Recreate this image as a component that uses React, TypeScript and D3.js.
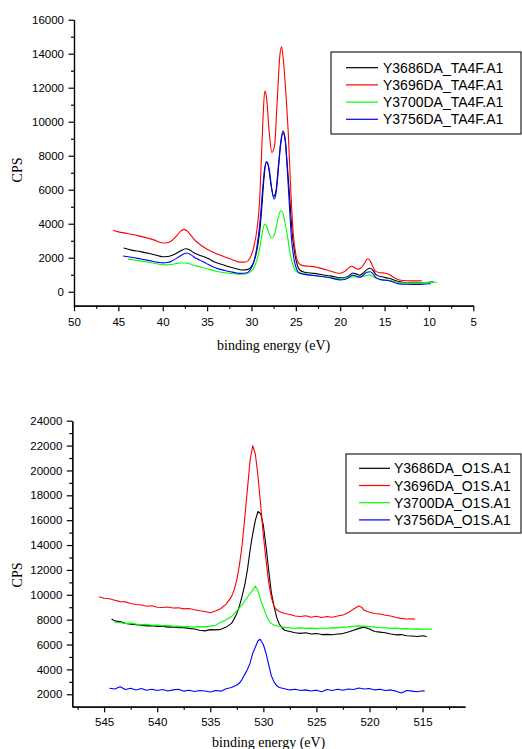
import React from 'react';
import * as d3 from 'd3';

type Pt = [number, number];

// ---- panel 1: TA4F region (binding energy eV, CPS) ----
const taNames = ['Y3686DA_TA4F.A1', 'Y3696DA_TA4F.A1', 'Y3700DA_TA4F.A1', 'Y3756DA_TA4F.A1'];

const ta3686: Pt[] = [
  [44.4, 2570], [43.5, 2450], [42.5, 2360], [41.5, 2250], [40.5, 2120], [40.0, 2060], [39.5, 2070],
  [39.0, 2130], [38.5, 2250], [38.0, 2400], [37.4, 2530], [37.0, 2470], [36.5, 2300], [36.0, 2180],
  [35.0, 1980], [34.0, 1720], [33.0, 1550], [32.0, 1400], [31.0, 1280], [30.5, 1300], [30.1, 1420],
  [29.7, 1800], [29.3, 2700], [29.0, 3900], [28.8, 5200], [28.6, 6600], [28.35, 7650], [28.1, 7400],
  [27.8, 6300], [27.5, 5600], [27.25, 5900], [27.0, 7200], [26.7, 8800], [26.45, 9450], [26.2, 9000],
  [26.0, 7700], [25.7, 5600], [25.4, 3400], [25.1, 2200], [24.8, 1500], [24.5, 1250], [24.0, 1150],
  [23.0, 1080], [22.0, 1000], [21.0, 920], [20.0, 820], [19.5, 840], [19.0, 950], [18.6, 1100],
  [18.2, 1050], [17.8, 980], [17.4, 1100], [17.0, 1300], [16.6, 1380], [16.3, 1250], [15.9, 980],
  [15.3, 880], [14.5, 790], [13.5, 620], [12.5, 530], [11.0, 520], [10.0, 560], [9.5, 580],
];
const ta3696: Pt[] = [
  [45.6, 3620], [45.0, 3520], [44.0, 3430], [43.0, 3320], [42.0, 3200], [41.0, 3050], [40.0, 2870],
  [39.5, 2880], [39.0, 3000], [38.5, 3250], [38.0, 3550], [37.6, 3670], [37.2, 3550], [36.8, 3300],
  [36.3, 3000], [35.8, 2780], [35.0, 2500], [34.0, 2250], [33.0, 2050], [32.0, 1850], [31.3, 1740],
  [30.6, 1750], [30.2, 1950], [29.8, 2500], [29.4, 3600], [29.1, 5200], [28.9, 7600], [28.7, 10200],
  [28.5, 11800], [28.3, 11400], [28.0, 9400], [27.7, 8200], [27.4, 8600], [27.1, 11200], [26.8, 13900],
  [26.6, 14400], [26.4, 13600], [26.1, 11500], [25.85, 9300], [25.6, 6300], [25.3, 3500], [25.0, 2200],
  [24.7, 1700], [24.3, 1550], [23.5, 1500], [23.0, 1480], [22.5, 1420], [21.5, 1280], [20.5, 1120],
  [20.0, 1090], [19.5, 1200], [19.0, 1420], [18.7, 1500], [18.4, 1420], [18.0, 1330], [17.7, 1380],
  [17.3, 1650], [16.9, 1940], [16.6, 1800], [16.3, 1450], [16.0, 1200], [15.5, 1120], [15.0, 1100],
  [14.6, 1050], [14.0, 850], [13.3, 690], [12.5, 650], [11.5, 640], [10.8, 650],
];
const ta3700: Pt[] = [
  [43.9, 1920], [43.0, 1850], [42.0, 1770], [41.0, 1680], [40.0, 1590], [39.5, 1580], [39.0, 1610],
  [38.5, 1660], [38.0, 1690], [37.4, 1690], [37.0, 1650], [36.5, 1560], [35.8, 1470], [35.0, 1350],
  [34.0, 1210], [33.0, 1120], [32.0, 1060], [31.3, 1030], [30.6, 1040], [30.2, 1150], [29.8, 1350],
  [29.4, 1850], [29.1, 2500], [28.9, 3100], [28.7, 3700], [28.5, 3980], [28.3, 3850], [28.0, 3400],
  [27.7, 3150], [27.45, 3300], [27.2, 3800], [26.95, 4450], [26.7, 4760], [26.45, 4600], [26.2, 4000],
  [25.95, 3300], [25.7, 2400], [25.4, 1700], [25.1, 1300], [24.8, 1150], [24.3, 1080], [23.5, 1000],
  [22.5, 920], [21.5, 860], [20.5, 800], [20.0, 780], [19.5, 800], [19.0, 840], [18.5, 880],
  [18.0, 860], [17.5, 880], [17.0, 960], [16.7, 990], [16.3, 900], [15.8, 760], [15.0, 700],
  [14.5, 680], [13.5, 560], [12.5, 520], [11.0, 520], [10.0, 550], [9.1, 560],
];
const ta3756: Pt[] = [
  [44.5, 2100], [43.5, 2030], [42.5, 1930], [41.5, 1830], [40.5, 1730], [40.0, 1700], [39.5, 1720],
  [39.0, 1800], [38.5, 1950], [38.0, 2120], [37.3, 2280], [36.8, 2170], [36.3, 1980], [35.8, 1860],
  [35.0, 1640], [34.0, 1400], [33.0, 1250], [32.0, 1140], [31.3, 1080], [30.6, 1100], [30.2, 1250],
  [29.8, 1650], [29.4, 2600], [29.1, 3800], [28.9, 5000], [28.7, 6300], [28.5, 7300], [28.25, 7650],
  [28.0, 7200], [27.7, 6000], [27.45, 5450], [27.2, 5900], [26.95, 7300], [26.7, 8700], [26.45, 9350],
  [26.2, 8900], [26.0, 7500], [25.75, 5300], [25.5, 3200], [25.2, 1900], [24.9, 1300], [24.6, 1100],
  [24.0, 1020], [23.0, 960], [22.0, 900], [21.0, 800], [20.0, 700], [19.5, 720], [19.0, 850],
  [18.6, 980], [18.2, 930], [17.8, 860], [17.4, 970], [17.0, 1150], [16.6, 1180], [16.3, 1050],
  [15.9, 800], [15.3, 700], [14.5, 650], [13.5, 480], [12.5, 440], [11.0, 430], [10.0, 470], [9.8, 480],
];
const taXTicks = [50, 45, 40, 35, 30, 25, 20, 15, 10, 5];
const taYTicks = [0, 2000, 4000, 6000, 8000, 10000, 12000, 14000, 16000];

// ---- panel 2: O1S region ----
const o1sNames = ['Y3686DA_O1S.A1', 'Y3696DA_O1S.A1', 'Y3700DA_O1S.A1', 'Y3756DA_O1S.A1'];

const o1s3686: Pt[] = [
  [544.3, 8060], [544.0, 7900], [543.5, 7850], [543.0, 7700], [542.5, 7640], [542.0, 7600], [541.5, 7560],
  [541.0, 7500], [540.5, 7520], [540.0, 7450], [539.5, 7480], [539.0, 7400], [538.5, 7420], [538.0, 7350],
  [537.5, 7360], [537.0, 7300], [536.5, 7250], [536.0, 7150], [535.5, 7100], [535.0, 7200], [534.5, 7180],
  [534.0, 7220], [533.5, 7400], [533.0, 7700], [532.75, 8050], [532.5, 8500], [532.25, 9100], [532.0, 9900],
  [531.75, 10800], [531.5, 12000], [531.25, 13600], [531.0, 14900], [530.75, 16000], [530.5, 16700],
  [530.25, 16500], [530.0, 15600], [529.75, 13900], [529.5, 12000], [529.25, 10200], [529.0, 9100],
  [528.75, 8200], [528.5, 7650], [528.25, 7350], [528.0, 7150], [527.5, 7050], [527.0, 6950], [526.5, 6900],
  [526.0, 6950], [525.5, 6850], [525.0, 6880], [524.5, 6800], [524.0, 6820], [523.5, 6780], [523.0, 6850],
  [522.5, 6880], [522.0, 7000], [521.5, 7150], [521.0, 7300], [520.5, 7400], [520.0, 7250], [519.5, 7050],
  [519.0, 7000], [518.5, 6950], [518.0, 6850], [517.5, 6780], [517.0, 6800], [516.5, 6700], [516.0, 6680],
  [515.5, 6650], [515.0, 6700], [514.6, 6650],
];
const o1s3696: Pt[] = [
  [545.5, 9850], [545.0, 9720], [544.5, 9680], [544.0, 9560], [543.5, 9450], [543.0, 9430], [542.5, 9300],
  [542.0, 9220], [541.5, 9180], [541.0, 9080], [540.5, 9120], [540.0, 9000], [539.5, 8980], [539.0, 9020],
  [538.5, 8940], [538.0, 8960], [537.5, 8870], [537.0, 8900], [536.5, 8800], [536.0, 8720], [535.5, 8650],
  [535.0, 8560], [534.5, 8700], [534.0, 8900], [533.5, 9250], [533.0, 9850], [532.75, 10400], [532.5, 11200],
  [532.25, 12400], [532.0, 14000], [531.75, 16200], [531.5, 18500], [531.25, 20800], [531.0, 22000],
  [530.75, 21300], [530.5, 19500], [530.25, 17200], [530.0, 14800], [529.75, 12800], [529.5, 11000],
  [529.25, 9800], [529.0, 9100], [528.75, 8800], [528.5, 8650], [528.0, 8500], [527.5, 8420], [527.0, 8300],
  [526.5, 8250], [526.0, 8320], [525.5, 8200], [525.0, 8280], [524.5, 8180], [524.0, 8260], [523.5, 8200],
  [523.0, 8300], [522.5, 8380], [522.0, 8550], [521.5, 8850], [521.0, 9100], [520.75, 9000], [520.5, 8750],
  [520.0, 8600], [519.5, 8500], [519.0, 8450], [518.5, 8350], [518.0, 8300], [517.5, 8180], [517.0, 8100],
  [516.5, 8050], [516.0, 8060], [515.7, 8030],
];
const o1s3700: Pt[] = [
  [544.0, 7800], [543.5, 7750], [543.0, 7700], [542.5, 7720], [542.0, 7640], [541.5, 7600], [541.0, 7620],
  [540.5, 7550], [540.0, 7580], [539.5, 7500], [539.0, 7540], [538.5, 7460], [538.0, 7480], [537.5, 7420],
  [537.0, 7450], [536.5, 7400], [536.0, 7440], [535.5, 7420], [535.0, 7480], [534.5, 7550], [534.0, 7800],
  [533.5, 8000], [533.0, 8250], [532.5, 8700], [532.0, 9200], [531.5, 9800], [531.0, 10400], [530.75, 10700],
  [530.5, 10300], [530.25, 9600], [530.0, 9000], [529.75, 8400], [529.5, 7950], [529.25, 7700], [529.0, 7560],
  [528.5, 7450], [528.0, 7380], [527.5, 7350], [527.0, 7300], [526.5, 7340], [526.0, 7300], [525.5, 7320],
  [525.0, 7280], [524.5, 7330], [524.0, 7300], [523.5, 7360], [523.0, 7340], [522.5, 7400], [522.0, 7420],
  [521.5, 7460], [521.0, 7500], [520.5, 7480], [520.0, 7450], [519.5, 7400], [519.0, 7350], [518.5, 7340],
  [518.0, 7300], [517.5, 7320], [517.0, 7260], [516.5, 7280], [516.0, 7240], [515.5, 7260], [515.0, 7220],
  [514.5, 7250], [514.1, 7230],
];
const o1s3756: Pt[] = [
  [544.5, 2480], [544.0, 2420], [543.5, 2600], [543.0, 2380], [542.5, 2480], [542.0, 2350], [541.5, 2460],
  [541.0, 2320], [540.5, 2400], [540.0, 2300], [539.5, 2380], [539.0, 2260], [538.5, 2350], [538.0, 2400],
  [537.5, 2250], [537.0, 2320], [536.5, 2220], [536.0, 2300], [535.5, 2260], [535.0, 2180], [534.5, 2300],
  [534.0, 2250], [533.5, 2450], [533.0, 2550], [532.5, 2750], [532.25, 2900], [532.0, 3200], [531.75, 3600],
  [531.5, 4000], [531.25, 4500], [531.0, 5300], [530.75, 5800], [530.5, 6300], [530.3, 6420], [530.0, 6000],
  [529.75, 5300], [529.5, 4400], [529.25, 3500], [529.0, 3000], [528.75, 2700], [528.5, 2550], [528.0, 2450],
  [527.5, 2350], [527.0, 2400], [526.5, 2300], [526.0, 2350], [525.5, 2260], [525.0, 2330], [524.5, 2200],
  [524.0, 2380], [523.5, 2300], [523.0, 2400], [522.5, 2320], [522.0, 2420], [521.5, 2380], [521.0, 2500],
  [520.5, 2420], [520.0, 2460], [519.5, 2350], [519.0, 2400], [518.5, 2300], [518.0, 2350], [517.5, 2250],
  [517.0, 2100], [516.5, 2300], [516.0, 2250], [515.5, 2200], [515.0, 2280], [514.8, 2250],
];
const o1sXTicks = [545, 540, 535, 530, 525, 520, 515];
const o1sYTicks = [2000, 4000, 6000, 8000, 10000, 12000, 14000, 16000, 18000, 20000, 22000, 24000];

const colors = ['#000000', '#ff0000', '#00ff00', '#0000ff'];

const sans = '"Liberation Sans", Arial, sans-serif';
const serif = '"Liberation Serif", "Times New Roman", serif';

function drawPanel(svg: any, p: any) {
  const g = svg.append('g');
  const x = d3.scaleLinear().domain(p.xDomain).range([p.left, p.right]);
  const y = d3.scaleLinear().domain(p.yDomain).range([p.bottom, p.top]);

  const style = (sel: any) => {
    sel.selectAll('path,line').attr('stroke', '#000').attr('stroke-width', 1.2);
    sel.selectAll('text').attr('font-family', sans).attr('font-size', 11.5).attr('fill', '#000');
  };

  // minor ticks
  g.append('g').attr('transform', `translate(0,${p.bottom})`)
    .call(d3.axisBottom(x).tickValues(p.xMinor).tickSize(3).tickSizeOuter(0).tickFormat(() => ''))
    .call(style);
  g.append('g').attr('transform', `translate(${p.left},0)`)
    .call(d3.axisLeft(y).tickValues(p.yMinor).tickSize(3).tickSizeOuter(0).tickFormat(() => ''))
    .call(style);

  // major ticks
  g.append('g').attr('transform', `translate(0,${p.bottom})`)
    .call(d3.axisBottom(x).tickValues(p.xTicks).tickSize(5.5).tickSizeOuter(0).tickPadding(p.xPad).tickFormat(d3.format('d')))
    .call(style);
  g.append('g').attr('transform', `translate(${p.left},0)`)
    .call(d3.axisLeft(y).tickValues(p.yTicks).tickSize(5.5).tickSizeOuter(0).tickPadding(4.5).tickFormat(d3.format('d')))
    .call(style);

  // axis titles
  g.append('text')
    .attr('x', (p.left + p.right) / 2).attr('y', p.xTitleY)
    .attr('text-anchor', 'middle').attr('font-family', serif).attr('font-size', 14)
    .text('binding energy (eV)');
  g.append('text')
    .attr('transform', `translate(21.5,${p.yTitleY}) rotate(-90)`)
    .attr('text-anchor', 'middle').attr('font-family', serif).attr('font-size', 14)
    .text('CPS');

  const line = d3.line<Pt>().x(d => x(d[0])).y(d => y(d[1])).curve(p.curve);
  p.series.forEach((s: Pt[], i: number) => {
    g.append('path').attr('d', line(s)).attr('fill', 'none')
      .attr('stroke', colors[i]).attr('stroke-width', 1.1).attr('stroke-linejoin', 'round');
  });

  // legend
  const lg = g.append('g');
  lg.append('rect')
    .attr('x', p.legend.x).attr('y', p.legend.y).attr('width', p.legend.w).attr('height', p.legend.h)
    .attr('fill', '#fff').attr('stroke', '#222').attr('stroke-width', 1.2);
  p.names.forEach((name: string, i: number) => {
    const ry = p.legend.y + p.legend.row0 + i * p.legend.step;
    lg.append('line')
      .attr('x1', p.legend.x + p.legend.lx0).attr('x2', p.legend.x + p.legend.lx1)
      .attr('y1', ry).attr('y2', ry).attr('stroke', colors[i]).attr('stroke-width', 1.2);
    lg.append('text')
      .attr('x', p.legend.x + p.legend.tx).attr('y', ry + 5)
      .attr('font-family', sans).attr('font-size', 14).attr('fill', '#000')
      .text(name);
  });
}

export default function App() {
  const svgRef = React.useRef<SVGSVGElement>(null);

  React.useEffect(() => {
    const svg = d3.select(svgRef.current);
    svg.selectAll('*').remove();

    drawPanel(svg, {
      xDomain: [50, 5], yDomain: [-820, 16000],
      left: 74, right: 473.3, top: 19.7, bottom: 305.7,
      xTicks: taXTicks, xMinor: d3.range(47.5, 5, -5), yTicks: taYTicks, yMinor: d3.range(1000, 16000, 2000),
      xPad: 7, xTitleY: 350, yTitleY: 170,
      curve: d3.curveMonotoneX,
      series: [ta3686, ta3696, ta3700, ta3756], names: taNames,
      legend: { x: 331, y: 52, w: 190, h: 82, row0: 15.7, step: 17.2, lx0: 15, lx1: 47, tx: 52 },
    });

    drawPanel(svg, {
      xDomain: [548, 511], yDomain: [1000, 24000],
      left: 72.3, right: 465, top: 420.7, bottom: 706.7,
      xTicks: o1sXTicks, xMinor: d3.range(547.5, 511, -5), yTicks: o1sYTicks, yMinor: d3.range(3000, 24000, 2000),
      xPad: 6, xTitleY: 747, yTitleY: 575,
      curve: d3.curveLinear,
      series: [o1s3686, o1s3696, o1s3700, o1s3756], names: o1sNames,
      legend: { x: 346, y: 454, w: 175, h: 79, row0: 14.3, step: 17.2, lx0: 13, lx1: 44, tx: 48 },
    });
  }, []);

  return (
    <svg
      ref={svgRef}
      width={522}
      height={749}
      style={{ position: 'absolute', left: 0, top: 0, background: '#fff' }}
    />
  );
}
